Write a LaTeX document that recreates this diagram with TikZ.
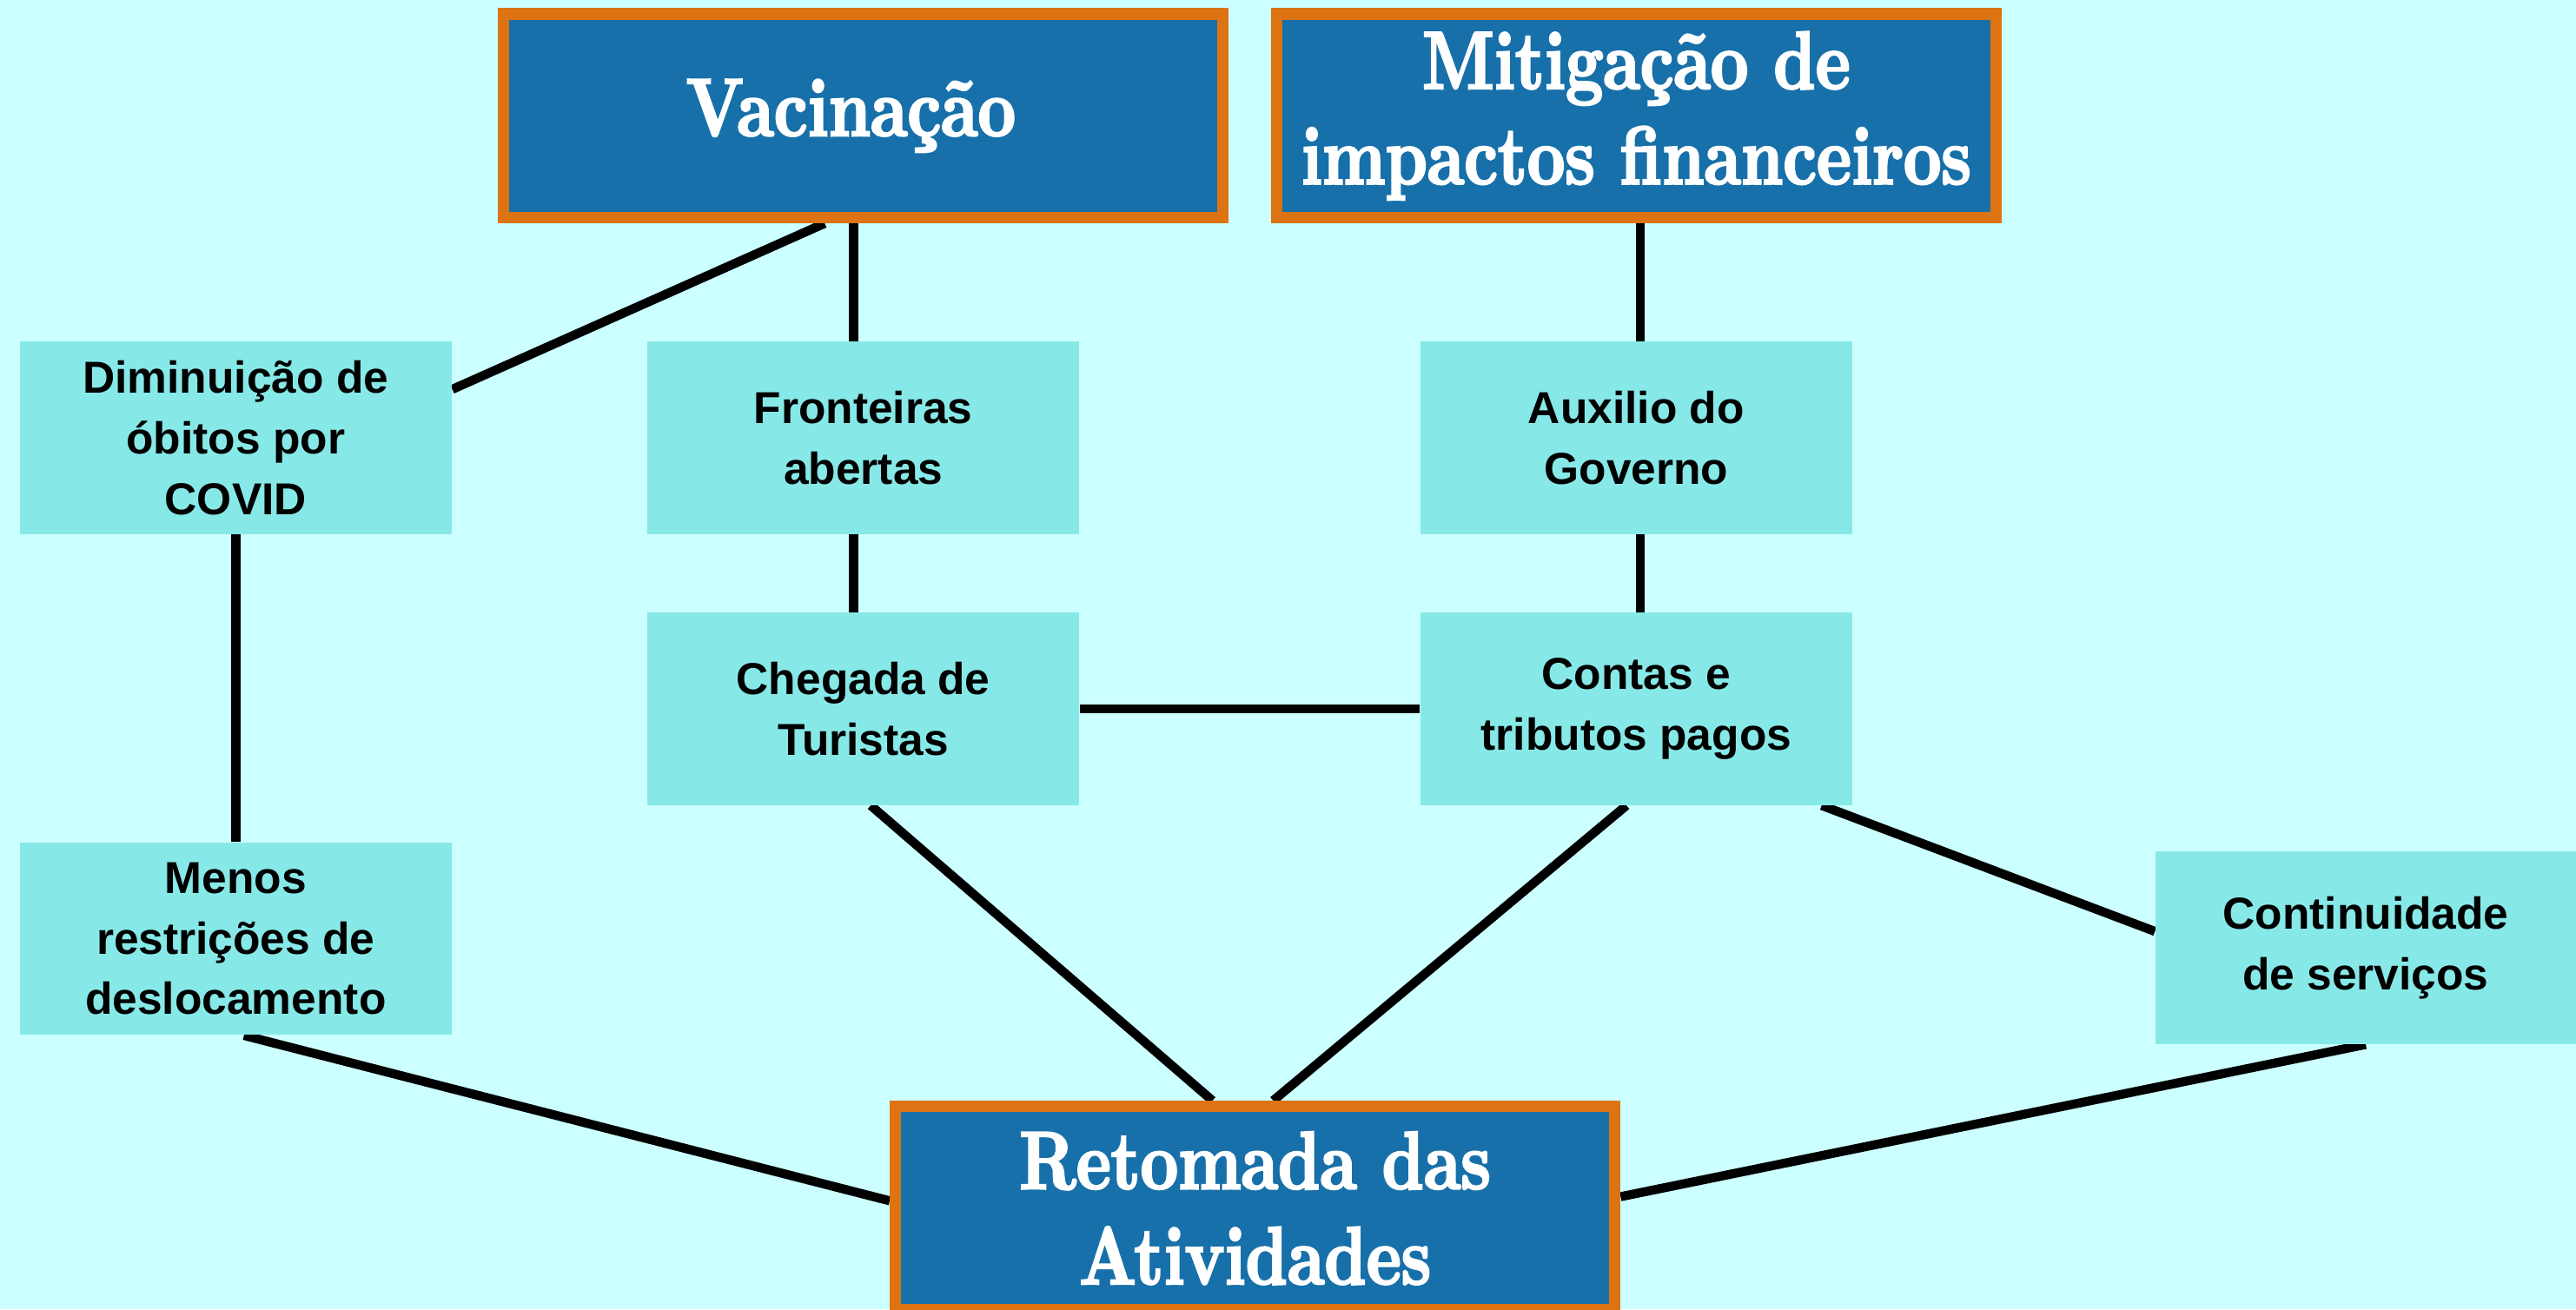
\documentclass[tikz,border=0pt]{standalone}
\usepackage{fontspec}
\setmainfont{Liberation Sans}
\newfontfamily\titlefont[Extension=.otf,FakeStretch=0.8,FakeBold=2.5]{lmroman10-bold}
\definecolor{bgc}{HTML}{CCFFFF}
\definecolor{lightbox}{HTML}{87E9E7}
\definecolor{bluebox}{HTML}{1770A9}
\definecolor{orangeb}{HTML}{DD7312}
\pgfdeclarelayer{back}
\pgfdeclarelayer{lines}
\pgfsetlayers{back,lines,main}
\tikzset{
  smallbox/.style={fill=lightbox, minimum width=5.26cm, minimum height=2.34cm, inner sep=0pt, align=center,
    font=\bfseries\fontsize{15.5pt}{21pt}\selectfont},
  bigbox/.style={fill=bluebox, draw=orangeb, line width=0.14cm, minimum width=8.76cm, minimum height=2.48cm,
    inner sep=0pt, align=center, text=white, font=\titlefont\fontsize{28.5pt}{33pt}\selectfont},
  link/.style={line width=0.11cm, draw=black},
}
\begin{document}
\begin{tikzpicture}[x=0.02cm,y=-0.02cm]
\useasboundingbox (0,0) rectangle (1568,797);
\begin{pgfonlayer}{back}
\fill[bgc] (0,0) rectangle (1568,797);
\end{pgfonlayer}

\node[bigbox] (vac) at (525.5,70.5) {Vacinação\hspace*{0.3cm}};
\node[bigbox] (mit) at (996,70.5) {Mitigação de\\impactos financeiros};
\node[bigbox] (ret) at (764,735.5) {Retomada das\\Atividades};

\node[smallbox] (dim) at (143.5,266.5) {Diminuição de\\óbitos por\\COVID};
\node[smallbox] (fro) at (525.5,266.5) {Fronteiras\\abertas};
\node[smallbox] (aux) at (996,266.5) {Auxilio do\\Governo};
\node[smallbox] (che) at (525.5,431.5) {Chegada de\\Turistas};
\node[smallbox] (con) at (996,431.5) {Contas e\\tributos pagos};
\node[smallbox] (men) at (143.5,571.5) {Menos\\restrições de\\deslocamento};
\node[smallbox, minimum width=5.12cm] (cont) at (1440,577) {Continuidade\\de serviços};

\begin{pgfonlayer}{lines}
\draw[link] ([xshift=-0.47cm]vac.south) -- ([yshift=0.59cm]dim.east);
\draw[link] ([xshift=-0.12cm]vac.south) -- ([xshift=-0.12cm]fro.north);
\draw[link] ([xshift=-0.12cm]fro.south) -- ([xshift=-0.12cm]che.north);
\draw[link] ([xshift=0.05cm]mit.south) -- ([xshift=0.05cm]aux.north);
\draw[link] ([xshift=0.05cm]aux.south) -- ([xshift=0.05cm]con.north);
\draw[link] (che.east) -- (con.west);
\draw[link] (dim.south) -- (men.north);
\draw[link] ([xshift=0.09cm]che.south) -- ([xshift=-0.52cm]ret.north);
\draw[link] ([xshift=-0.12cm]con.south) -- ([xshift=0.22cm]ret.north);
\draw[link] ([xshift=-0.38cm]con.south east) -- ([yshift=0.2cm]cont.west);
\draw[link] ([xshift=0.1cm]men.south) -- ([yshift=0.09cm]ret.west);
\draw[link] (cont.south) -- ([yshift=0.14cm]ret.east);
\end{pgfonlayer}
\end{tikzpicture}
\end{document}
